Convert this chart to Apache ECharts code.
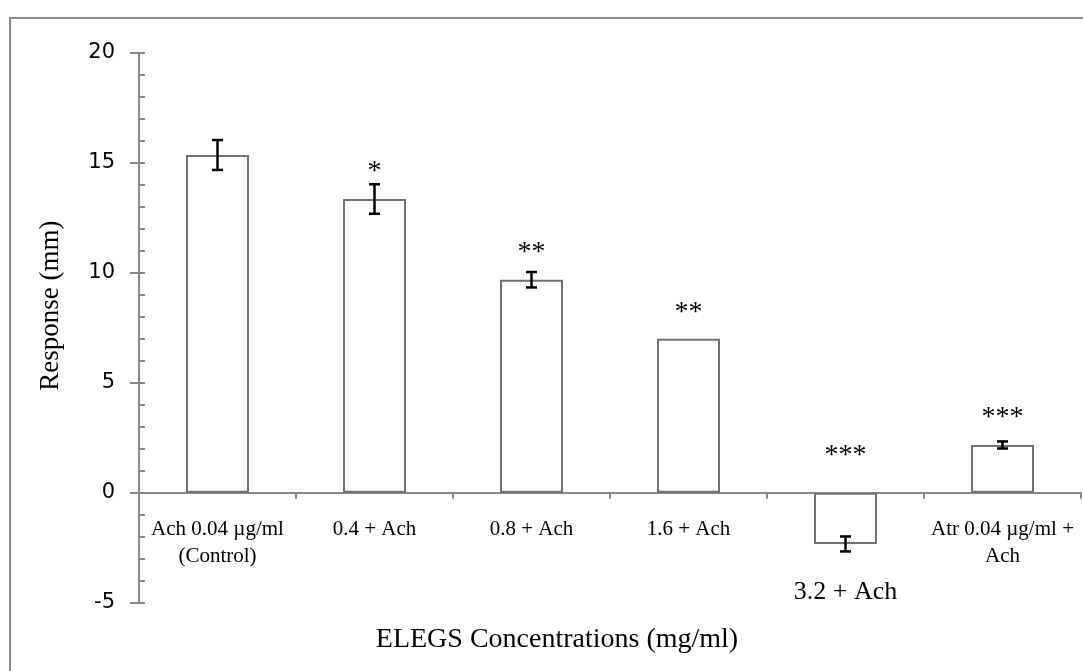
<!DOCTYPE html>
<html>
<head>
<meta charset="utf-8">
<style>
  html, body { margin: 0; padding: 0; background: #fff; }
  #main { width: 1083px; height: 671px; }
</style>
<script src="https://cdn.jsdelivr.net/npm/echarts@6/dist/echarts.min.js"></script>
</head>
<body>
<div id="main"></div>
<script>
// values
var categories = ['Ach 0.04 µg/ml\n(Control)', '0.4 + Ach', '0.8 + Ach', '1.6 + Ach', '3.2 + Ach', 'Atr 0.04 µg/ml +\nAch'];
var means = [15.35, 13.35, 9.68, 7.0, -2.33, 2.17];
var errors = [0.68, 0.67, 0.35, 0, 0.34, 0.16];
var sigMarks = ['', '*', '**', '**', '***', '***'];
var sigY = [null, 14.6, 10.9, 8.2, 1.7, 3.4];
var yTicks = { min: -5, max: 20, step: 5 };

var serif = 'Liberation Serif';
var axisGray = '#878787';

var errData = [];
means.forEach(function (m, i) {
    if (errors[i] > 0) errData.push([i, m - errors[i], m + errors[i]]);
});
var sigData = [];
sigMarks.forEach(function (s, i) {
    if (s) sigData.push([i, sigY[i], s]);
});

var chart = echarts.init(document.getElementById('main'));
var option = {
    animation: false,
    graphic: [{
        type: 'rect',
        shape: { x: 10, y: 18, width: 1100, height: 700 },
        style: { fill: 'none', stroke: '#8c8c8c', lineWidth: 2 },
        silent: true
    }],
    grid: { left: 139, right: 2, top: 52.7, bottom: 68.3, containLabel: false, outerBoundsMode: 'none' },
    xAxis: {
        type: 'category',
        data: categories,
        name: 'ELEGS Concentrations (mg/ml)',
        nameLocation: 'middle',
        // labels and name are laid out from the grid bottom (-5), not from the zero line
        nameGap: 23,
        nameTextStyle: { fontFamily: serif, fontSize: 28, color: '#000', padding: [0, 106, 0, 0] },
        axisLine: { onZero: true, lineStyle: { color: axisGray, width: 2 } },
        axisTick: { show: true, length: 6, lineStyle: { color: axisGray, width: 2 } },
        axisLabel: {
            interval: 0,
            margin: -87,
            fontFamily: serif,
            fontSize: 21,
            lineHeight: 27,
            color: '#000',
            formatter: function (v, i) {
                return i === 4 ? '{big|' + v + '}' : v;
            },
            rich: {
                big: { fontFamily: serif, fontSize: 26, lineHeight: 30, color: '#000', padding: [123, 0, 0, 0] }
            }
        },
        splitLine: { show: false }
    },
    yAxis: [{
        type: 'value',
        min: yTicks.min,
        max: yTicks.max,
        interval: yTicks.step,
        name: 'Response (mm)',
        nameLocation: 'middle',
        nameGap: 75,
        nameTextStyle: { fontFamily: serif, fontSize: 27, color: '#000', padding: [0, 0, 0, 44] },
        axisLine: { show: true, lineStyle: { color: axisGray, width: 2 } },
        axisTick: { show: true, inside: true, length: 6, lineStyle: { color: axisGray, width: 2 } },
        minorTick: { show: true, splitNumber: 5, length: 6, lineStyle: { color: axisGray, width: 2 } },
        axisLabel: { margin: 24, fontFamily: 'DejaVu Sans', fontSize: 21, color: '#000' },
        splitLine: { show: false }
    }, {
        // outer half of the major ticks
        type: 'value',
        position: 'left',
        min: yTicks.min,
        max: yTicks.max,
        interval: yTicks.step,
        axisLine: { show: false },
        axisTick: { show: true, inside: false, length: 9, lineStyle: { color: axisGray, width: 2 } },
        axisLabel: { show: false },
        splitLine: { show: false }
    }],
    series: [{
        type: 'bar',
        data: means,
        barWidth: 63,
        itemStyle: { color: '#fff', borderColor: '#717171', borderWidth: 2 }
    }, {
        type: 'custom',
        data: errData,
        z: 5,
        renderItem: function (params, api) {
            var lo = api.coord([api.value(0), api.value(1)]);
            var hi = api.coord([api.value(0), api.value(2)]);
            var w = 5.5;
            var st = { stroke: '#000', lineWidth: 2.5 };
            return {
                type: 'group',
                children: [
                    { type: 'line', shape: { x1: lo[0], y1: lo[1], x2: hi[0], y2: hi[1] }, style: st },
                    { type: 'line', shape: { x1: lo[0] - w, y1: lo[1], x2: lo[0] + w, y2: lo[1] }, style: st },
                    { type: 'line', shape: { x1: hi[0] - w, y1: hi[1], x2: hi[0] + w, y2: hi[1] }, style: st }
                ]
            };
        }
    }, {
        type: 'custom',
        data: sigData,
        z: 6,
        renderItem: function (params, api) {
            var p = api.coord([api.value(0), api.value(1)]);
            return {
                type: 'text',
                x: p[0],
                y: p[1],
                style: {
                    text: sigMarks[api.value(0)],
                    fontFamily: serif,
                    fontSize: 28,
                    fill: '#000',
                    align: 'center',
                    verticalAlign: 'middle'
                }
            };
        }
    }]
};
chart.setOption(option);
</script>
</body>
</html>
